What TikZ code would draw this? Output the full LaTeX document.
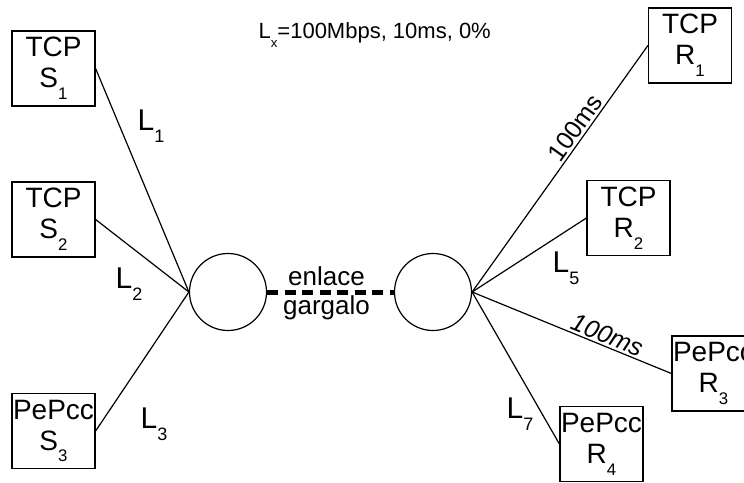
\documentclass[tikz,border=0pt]{standalone}
\usepackage{fontspec}
\setmainfont{Liberation Sans}
\newcommand{\idx}[1]{\raisebox{-0.42em}{\scalebox{0.6}{#1}}}

\begin{document}
\begin{tikzpicture}[x=10pt, y=-10pt, line width=1.2pt,
	host/.style={shape=rectangle, draw=black, minimum width=83pt, minimum height=75pt, inner sep=0pt, align=center, font=\fontsize{28}{31}\selectfont},
	hub/.style={shape=circle, draw=black, minimum size=77pt, inner sep=0pt},
	lbl/.style={anchor=base west, inner sep=0pt, font=\fontsize{30}{30}\selectfont},
	delay/.style={above, sloped, inner sep=2pt, font=\fontsize{25}{25}\selectfont}]
			\useasboundingbox (0,0) rectangle (74.4,48.2);
			
			\node[host] (s1) at (5.35,6.85) {TCP\\S\idx{1}};
			\node[host] (s2) at (5.35,21.95) {TCP\\S\idx{2}};
			\node[host] (s3) at (5.35,43.1) {PePcc\\S\idx{3}};
			\node[host] (r1) at (69.0,4.55) {TCP\\R\idx{1}};
			\node[host] (r2) at (62.85,21.8) {TCP\\R\idx{2}};
			\node[host] (r3) at (71.35,37.35) {PePcc\\R\idx{3}};
			\node[host] (r4) at (60.15,44.4) {PePcc\\R\idx{4}};
			\node[hub] (hs) at (22.8,29.2) {};
			\node[hub] (hr) at (43.3,29.2) {};
			
			\node[lbl] (l1) at (13.7,13.0) {L\idx{1}};
			\node[lbl] (l2) at (11.5,28.8) {L\idx{2}};
			\node[lbl] (l3) at (14.0,42.8) {L\idx{3}};
			\node[lbl] (l5) at (55.2,27.2) {L\idx{5}};
			\node[lbl] (l7) at (50.6,41.8) {L\idx{7}};
			\node[lbl, font=\fontsize{22}{22}\selectfont] (lx) at (25.8,3.8) {L\idx{x}=100Mbps, 10ms, 0\%};
			\node[anchor=base, inner sep=0pt, font=\fontsize{26}{26}\selectfont] (up) at (32.65,28.5) {enlace};
			\node[anchor=base, inner sep=0pt, font=\fontsize{26}{26}\selectfont] (dn) at (32.65,31.4) {gargalo};
			
			\path (s1.east) edge (hs.west);
			\path (s2.east) edge (hs.west);
			\path (s3.east) edge (hs.west);
			\path (hr.east) edge node[delay, pos=0.64] {100ms} (r1.west);
			\path (hr.east) edge (r2.west);
			\path (hr.east) edge node[delay, pos=0.66, font=\fontsize{25}{25}\selectfont\itshape] {100ms} (r3.west);
			\path (hr.east) edge (r4.west);
			\path (hs.east) edge[line width=5pt, dash pattern=on 11pt off 6.5pt] (hr.west);
		\end{tikzpicture}
\end{document}
